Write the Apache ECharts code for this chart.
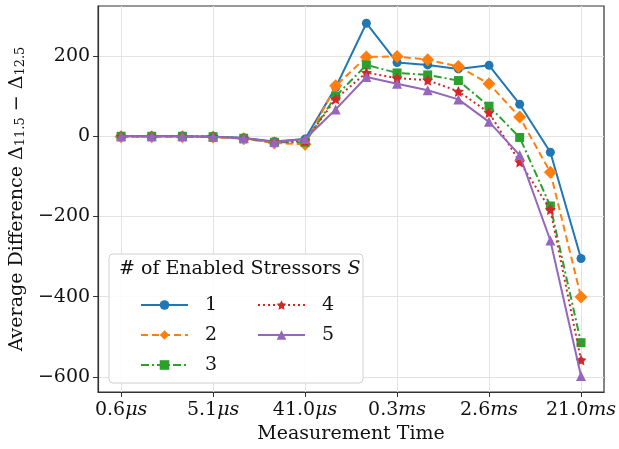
<!DOCTYPE html>
<html>
<head>
<meta charset="utf-8">
<script src="https://cdn.jsdelivr.net/npm/echarts@6/dist/echarts.min.js"></script>
<style>
  html, body { margin: 0; padding: 0; background: #fff; }
  #chart { width: 619px; height: 449px; }
</style>
</head>
<body>
<div id="chart"></div>
<script>
'use strict';
// measurement time ticks (every 3rd point is labelled)
const tickPos = [0, 3, 6, 9, 12, 15];
const tickLabels = ['0.6μs', '5.1μs', '41.0μs', '0.3ms', '2.6ms', '21.0ms'];
const yTicks = [-600, -400, -200, 0, 200];

const names = ['1', '2', '3', '4', '5'];
const s1 = [0, 0, 0, -1, -4, -13, -7, 122, 282, 184, 178, 168, 177, 80, -40, -305];
const s2 = [-1, -1, -1, -2, -6, -17, -20, 126, 198, 199, 191, 174, 131, 48, -90, -401];
const s3 = [0, 0, 0, -1, -5, -15, -15, 100, 178, 158, 153, 139, 75, -3, -174, -515];
const s4 = [0, 0, 0, -1, -5, -14, -12, 93, 159, 145, 140, 112, 59, -64, -183, -558];
const s5 = [0, 0, 0, -1, -5, -14, -7, 67, 148, 131, 115, 92, 36, -47, -260, -598];

const FONT = 'DejaVu Serif';
const STAR = 'path://M0,-10L2.94,-4.05L9.51,-3.09L4.76,1.55L5.88,8.09L0,5L-5.88,8.09L-4.76,1.55L-9.51,-3.09L-2.94,-4.05Z';

const styles = [
  { color: '#1f77b4', symbol: 'circle', size: 9, dash: 'solid' },
  { color: '#ff7f0e', symbol: 'diamond', size: 13, dash: [7, 4] },
  { color: '#2ca02c', symbol: 'rect', size: 9, dash: [8, 3, 2, 3] },
  { color: '#d62728', symbol: STAR, size: 11, dash: [2, 3] },
  { color: '#9467bd', symbol: 'triangle', size: 10, dash: 'solid' }
];

const series = [s1, s2, s3, s4, s5].map((vals, k) => ({
  name: names[k],
  type: 'line',
  data: vals.map((v, i) => [i, v]),
  symbol: styles[k].symbol,
  symbolSize: styles[k].size,
  showSymbol: true,
  lineStyle: { color: styles[k].color, width: 2, type: styles[k].dash },
  itemStyle: { color: styles[k].color, borderWidth: 0 },
  z: 3 + k
}));

const legendBase = {
  orient: 'vertical',
  padding: 0,
  itemWidth: 47,
  itemHeight: 12,
  itemGap: 10,
  z: 20,
  textStyle: { fontFamily: FONT, fontSize: 19, lineHeight: 20, color: '#111', padding: [0, 0, 0, 12] }
};

const chart = echarts.init(document.getElementById('chart'));
chart.setOption({
  animation: false,
  textStyle: { fontFamily: FONT },
  grid: { left: 97, top: 6, right: 10, bottom: 55, show: true, borderColor: '#333', borderWidth: 1.2, backgroundColor: 'transparent' },
  xAxis: {
    type: 'value', min: -0.75, max: 15.75,
    name: 'Measurement Time', nameLocation: 'middle', nameGap: 33,
    nameTextStyle: { fontFamily: FONT, fontSize: 19, color: '#111' },
    axisLine: { onZero: false, lineStyle: { color: '#333', width: 1.2 } },
    axisTick: { show: true, length: 5, customValues: tickPos, lineStyle: { color: '#333' } },
    axisLabel: {
      customValues: tickPos, margin: 9,
      formatter: (v) => {
        const t = tickLabels[tickPos.indexOf(v)] || '';
        const m = t.match(/^([\d.]+)(.*)$/);
        return m ? '{n|' + m[1] + '}{i|' + m[2] + '}' : t;
      },
      rich: {
        n: { fontFamily: FONT, fontSize: 19, color: '#111' },
        i: { fontFamily: FONT, fontSize: 19, fontStyle: 'italic', color: '#111' }
      }
    },
    splitLine: { show: true, lineStyle: { color: '#e3e3e3', width: 1 } }
  },
  yAxis: {
    type: 'value', min: -638, max: 325,
    name: '{n|Average Difference Δ}{s|11.5}{n| − Δ}{s|12.5}',
    nameLocation: 'middle', nameGap: 66, nameRotate: 90,
    nameTextStyle: {
      rich: {
        n: { fontFamily: FONT, fontSize: 19, color: '#111', verticalAlign: 'bottom', lineHeight: 24 },
        s: { fontFamily: FONT, fontSize: 13, color: '#111', verticalAlign: 'bottom', lineHeight: 18 }
      }
    },
    axisLine: { show: true, onZero: false, lineStyle: { color: '#333', width: 1.2 } },
    axisTick: { show: true, length: 5, customValues: yTicks, lineStyle: { color: '#333' } },
    axisLabel: {
      customValues: yTicks, margin: 8,
      fontFamily: FONT, fontSize: 19, color: '#111',
      formatter: (v) => (v < 0 ? '−' + Math.abs(v) : String(v))
    },
    splitLine: { show: true, lineStyle: { color: '#e3e3e3', width: 1 } }
  },
  legend: [
    Object.assign({}, legendBase, { data: names.slice(0, 3), left: 140, top: 295 }),
    Object.assign({}, legendBase, { data: names.slice(3), left: 257, top: 295 })
  ],
  graphic: [
    {
      type: 'rect', z: 15,
      shape: { x: 109, y: 254, width: 254, height: 129, r: 4 },
      style: { fill: 'rgba(255,255,255,0.85)', stroke: '#d0d0d0', lineWidth: 1 }
    },
    {
      type: 'text', z: 16, left: 119, top: 260,
      style: {
        text: '{n|# of Enabled Stressors }{i|S}',
        rich: {
          n: { fontFamily: FONT, fontSize: 19, fill: '#111' },
          i: { fontFamily: FONT, fontSize: 19, fontStyle: 'italic', fill: '#111' }
        }
      }
    }
  ],
  series: series
});
</script>
</body>
</html>
